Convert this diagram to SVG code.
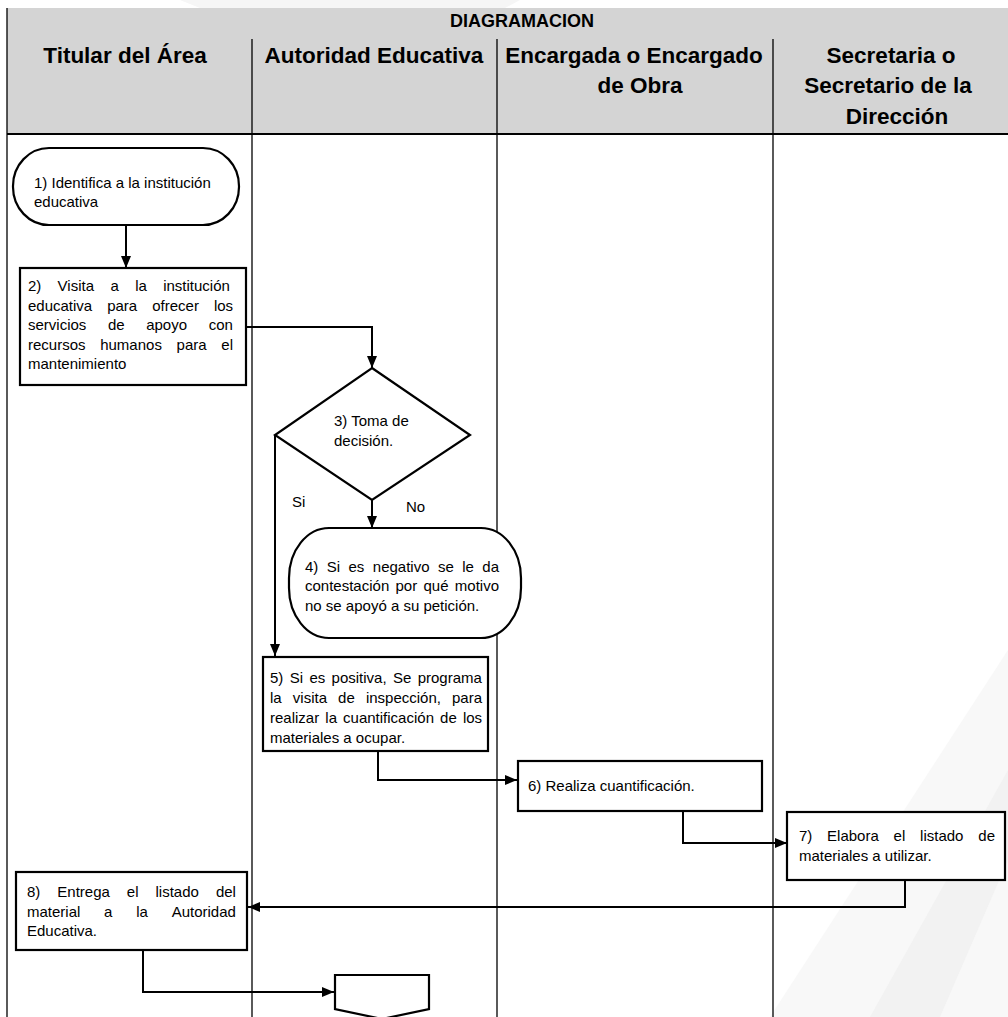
<svg xmlns="http://www.w3.org/2000/svg" width="1008" height="1017" viewBox="0 0 1008 1017">
  <style>
    .hdr { font-family: "Liberation Sans", Arial, sans-serif; font-weight: bold; font-size: 22.5px; text-anchor: middle; fill: #000; }
    .title { font-family: "Liberation Sans", Arial, sans-serif; font-weight: bold; font-size: 18px; text-anchor: middle; fill: #000; }
    .t { font-family: "Liberation Sans", Arial, sans-serif; font-size: 15px; fill: #000; }
    .shape { fill: #fff; stroke: #000; stroke-width: 2.2; }
    .lane { stroke: #000; stroke-width: 1.3; fill: none; }
    .conn { fill: none; stroke: #000; stroke-width: 2; }
  </style>
  <defs>
    <marker id="arrow" viewBox="0 0 12 10" refX="12" refY="5" markerWidth="12" markerHeight="10" markerUnits="userSpaceOnUse" orient="auto">
      <path d="M0,0 L12,5 L0,10 z" fill="#000"/>
    </marker>
  </defs>

  <!-- page background with faint diagonal watermark bands -->
  <rect x="0" y="0" width="1008" height="1017" fill="#fff"/>
  <g id="watermark">
    <polygon points="1008,650 770,1017 1008,1017" fill="#f8f8f8"/>
    <polygon points="1008,770 1008,860 940,1017 870,1017" fill="#f2f2f2"/>
    <polygon points="180,0 520,0 505,8 200,8" fill="#f6f6f6"/>
  </g>

  <!-- swimlane table -->
  <g id="lanes">
    <rect x="7" y="8" width="1001" height="126" fill="#d4d4d4"/>
    <line class="lane" x1="7" y1="8" x2="7" y2="1017"/>
    <line class="lane" x1="252" y1="39" x2="252" y2="1017"/>
    <line class="lane" x1="497" y1="39" x2="497" y2="1017"/>
    <line class="lane" x1="773" y1="39" x2="773" y2="1017"/>
    <line x1="7" y1="134" x2="1008" y2="134" stroke="#000" stroke-width="2"/>
    <text class="title" x="522" y="27">DIAGRAMACION</text>
    <text class="hdr" x="125" y="63">Titular del Área</text>
    <text class="hdr" x="374" y="63">Autoridad Educativa</text>
    <text class="hdr" x="634" y="63">Encargada o Encargado</text>
    <text class="hdr" x="640" y="93">de Obra</text>
    <text class="hdr" x="891" y="63">Secretaria o</text>
    <text class="hdr" x="888" y="93">Secretario de la</text>
    <text class="hdr" x="897" y="124">Dirección</text>
  </g>

  <!-- connectors -->
  <g id="connectors">
    <path class="conn" d="M126,225 V268" marker-end="url(#arrow)"/>
    <path class="conn" d="M246,327 H372 V368" marker-end="url(#arrow)"/>
    <path class="conn" d="M372,500 V528" marker-end="url(#arrow)"/>
    <path class="conn" d="M275,435 V656" marker-end="url(#arrow)"/>
    <path class="conn" d="M300,750 H378 V780 H517" marker-end="url(#arrow)"/>
    <path class="conn" d="M578,811 H683 V843 H787" marker-end="url(#arrow)"/>
    <path class="conn" d="M905,880 V907 H248" marker-end="url(#arrow)"/>
    <path class="conn" d="M60,948 H143 V992 H334" marker-end="url(#arrow)"/>
    <text class="t" x="292" y="507">Si</text>
    <text class="t" x="406" y="512">No</text>
  </g>

  <!-- 1) start terminator -->
  <g id="n1">
    <rect class="shape" x="13" y="148" width="226" height="77" rx="36" ry="38"/>
    <text class="t" x="34" y="188">1) Identifica a la institución</text>
    <text class="t" x="34" y="207">educativa</text>
  </g>

  <!-- 2) visit -->
  <g id="n2">
    <rect class="shape" x="20" y="268" width="226" height="117"/>
    <text class="t" y="291"><tspan x="28">2)</tspan><tspan x="57.6">Visita</tspan><tspan x="110.6">a</tspan><tspan x="135.2">la</tspan><tspan x="163.2">institución</tspan></text>
    <text class="t" y="311"><tspan x="28">educativa</tspan><tspan x="107.2">para</tspan><tspan x="152.2">ofrecer</tspan><tspan x="213.9">los</tspan></text>
    <text class="t" y="330"><tspan x="28">servicios</tspan><tspan x="107.9">de</tspan><tspan x="146.2">apoyo</tspan><tspan x="208.7">con</tspan></text>
    <text class="t" y="350"><tspan x="28">recursos</tspan><tspan x="100.2">humanos</tspan><tspan x="176.6">para</tspan><tspan x="221.3">el</tspan></text>
    <text class="t" x="28" y="369">mantenimiento</text>
  </g>

  <!-- 3) decision -->
  <g id="n3">
    <polygon class="shape" points="372,368 470,435 372,500 275,435"/>
    <text class="t" x="334" y="426">3) Toma de</text>
    <text class="t" x="334" y="446">decisión.</text>
  </g>

  <!-- 4) negative answer terminator -->
  <g id="n4">
    <rect class="shape" x="289" y="528" width="232" height="110" rx="40" ry="50"/>
    <text class="t" y="572"><tspan x="305">4)</tspan><tspan x="326.8">Si</tspan><tspan x="348.5">es</tspan><tspan x="372.8">negativo</tspan><tspan x="437.9">se</tspan><tspan x="462.2">le</tspan><tspan x="482.3">da</tspan></text>
    <text class="t" y="591"><tspan x="305">contestación</tspan><tspan x="395.5">por</tspan><tspan x="423.5">qué</tspan><tspan x="454.8">motivo</tspan></text>
    <text class="t" x="305" y="611">no se apoyó a su petición.</text>
  </g>

  <!-- 5) positive: schedule inspection -->
  <g id="n5">
    <rect class="shape" x="263" y="657" width="225" height="94"/>
    <text class="t" y="683"><tspan x="270">5)</tspan><tspan x="289.7">Si</tspan><tspan x="309.4">es</tspan><tspan x="331.6">positiva,</tspan><tspan x="393">Se</tspan><tspan x="417.7">programa</tspan></text>
    <text class="t" y="703"><tspan x="270">la</tspan><tspan x="292.8">visita</tspan><tspan x="338.1">de</tspan><tspan x="365.9">inspección,</tspan><tspan x="452">para</tspan></text>
    <text class="t" y="723"><tspan x="270">realizar</tspan><tspan x="325.3">la</tspan><tspan x="343.1">cuantificación</tspan><tspan x="440.1">de</tspan><tspan x="462.9">los</tspan></text>
    <text class="t" x="270" y="743">materiales a ocupar.</text>
  </g>

  <!-- 6) quantification -->
  <g id="n6">
    <rect class="shape" x="518" y="761" width="244" height="50"/>
    <text class="t" x="528" y="791">6) Realiza cuantificación.</text>
  </g>

  <!-- 7) materials list -->
  <g id="n7">
    <rect class="shape" x="787" y="812" width="218" height="68"/>
    <text class="t" y="841"><tspan x="799">7)</tspan><tspan x="827.1">Elabora</tspan><tspan x="893.6">el</tspan><tspan x="920.1">listado</tspan><tspan x="978.3">de</tspan></text>
    <text class="t" x="799" y="861">materiales a utilizar.</text>
  </g>

  <!-- 8) delivery -->
  <g id="n8">
    <rect class="shape" x="16" y="872" width="231" height="78"/>
    <text class="t" y="897"><tspan x="27">8)</tspan><tspan x="57.3">Entrega</tspan><tspan x="126.8">el</tspan><tspan x="155.5">listado</tspan><tspan x="215.9">del</tspan></text>
    <text class="t" y="917"><tspan x="27">material</tspan><tspan x="104.1">a</tspan><tspan x="136.2">la</tspan><tspan x="171.7">Autoridad</tspan></text>
    <text class="t" x="27" y="936">Educativa.</text>
  </g>

  <!-- off-page connector -->
  <g id="offpage">
    <polygon class="shape" points="335,975 429,975 429,1009 382,1019 335,1009"/>
  </g>
</svg>
